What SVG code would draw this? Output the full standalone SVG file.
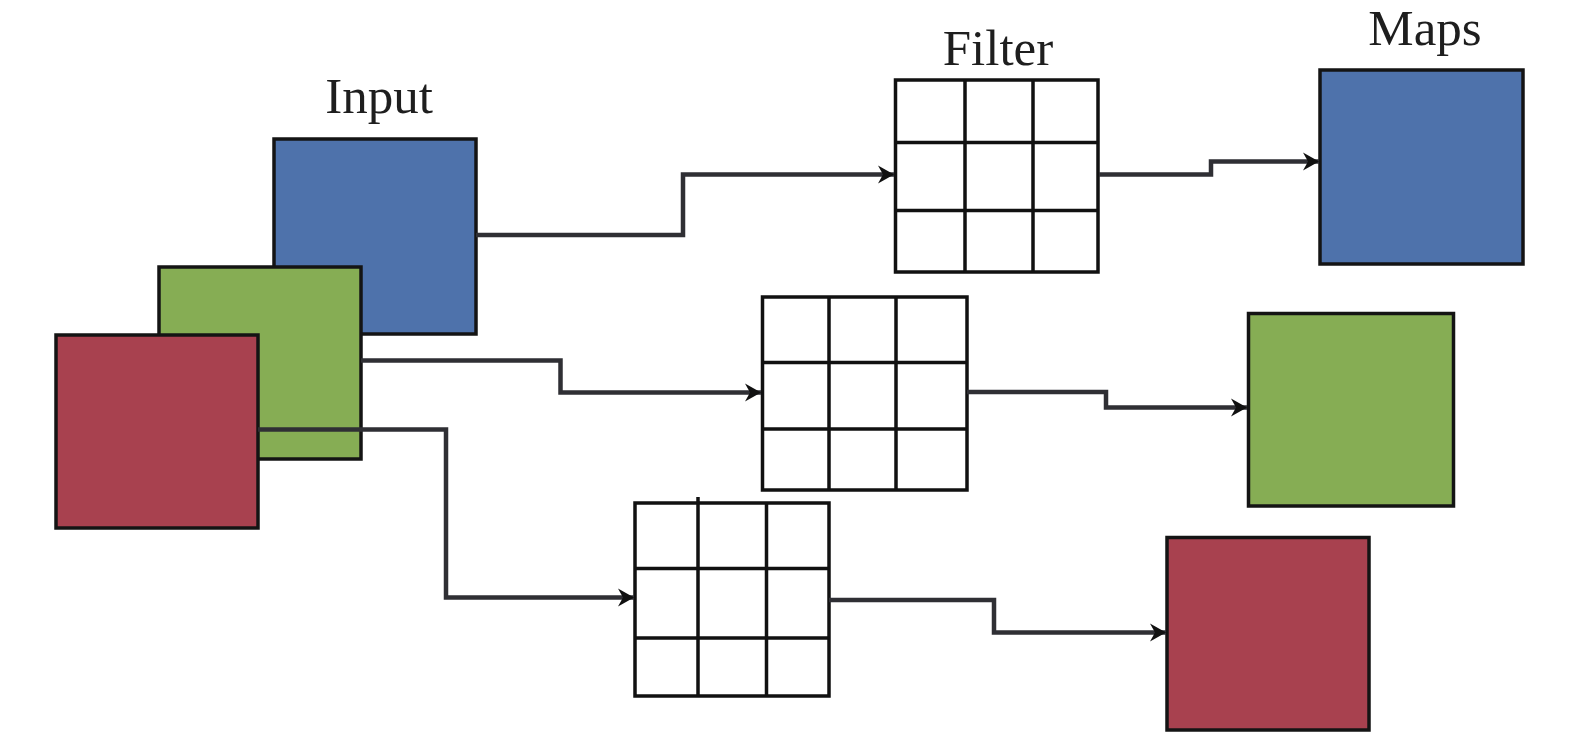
<svg xmlns="http://www.w3.org/2000/svg" width="1575" height="738" viewBox="0 0 1575 738">
<defs>
<style>
.lbl{font-family:"Liberation Serif","Times New Roman",serif;font-size:51px;fill:#1e1e1e;text-anchor:middle}
.box{stroke:#141414;stroke-width:3.5}
.blue{fill:#4E72AB}
.green{fill:#86AD54}
.red{fill:#A8414F}
.grid{fill:#ffffff;stroke:#111111;stroke-width:3.5}
.gl{stroke:#111111;stroke-width:3.5;fill:none}
.conn{fill:none;stroke:#2f2f34;stroke-width:4.5;marker-end:url(#arr)}
</style>
<marker id="arr" markerUnits="userSpaceOnUse" markerWidth="20" markerHeight="22" refX="17" refY="11" orient="auto">
<path d="M1,2 L17,11 L1,20 L6,11 Z" fill="#111111"/>
</marker>
</defs>
<rect width="1575" height="738" fill="#ffffff"/>

<g id="label-input"><text class="lbl" x="379" y="113">Input</text></g>
<g id="label-filter"><text class="lbl" x="998" y="65">Filter</text></g>
<g id="label-maps"><text class="lbl" x="1425" y="45">Maps</text></g>

<g id="input-blue"><rect class="box blue" x="274" y="139" width="202" height="195"/></g>
<g id="input-green"><rect class="box green" x="159" y="267" width="202" height="192"/></g>
<g id="input-red"><rect class="box red" x="56" y="335" width="202" height="193"/></g>

<g id="filter-top">
<rect class="grid" x="895.5" y="80" width="202.5" height="192"/>
<path class="gl" d="M965,80 V272 M1033,80 V272 M895.5,142.5 H1098 M895.5,210.5 H1098"/>
</g>
<g id="filter-mid">
<rect class="grid" x="762.5" y="297" width="204.5" height="193"/>
<path class="gl" d="M829,297 V490 M896,297 V490 M762.5,362.5 H967 M762.5,429 H967"/>
</g>
<g id="filter-bot">
<rect class="grid" x="635" y="503" width="194" height="193"/>
<path class="gl" d="M698,497 V696 M766.5,503 V696 M635,568.5 H829 M635,638 H829"/>
</g>

<g id="map-blue"><rect class="box blue" x="1320" y="70" width="203" height="194"/></g>
<g id="map-green"><rect class="box green" x="1248.5" y="313.5" width="205" height="192.5"/></g>
<g id="map-red"><rect class="box red" x="1167" y="537.5" width="202" height="192.5"/></g>

<g id="connectors">
<path class="conn" d="M476,235 H683 V174.5 H894"/>
<path class="conn" d="M1099,174.5 H1211 V161.5 H1319"/>
<path class="conn" d="M361,360.5 H560.5 V392.5 H761"/>
<path class="conn" d="M967,392 H1106 V407.5 H1247"/>
<path class="conn" d="M258,429.5 H446 V597.5 H634"/>
<path class="conn" d="M829,600 H994 V632.5 H1166"/>
</g>
</svg>
